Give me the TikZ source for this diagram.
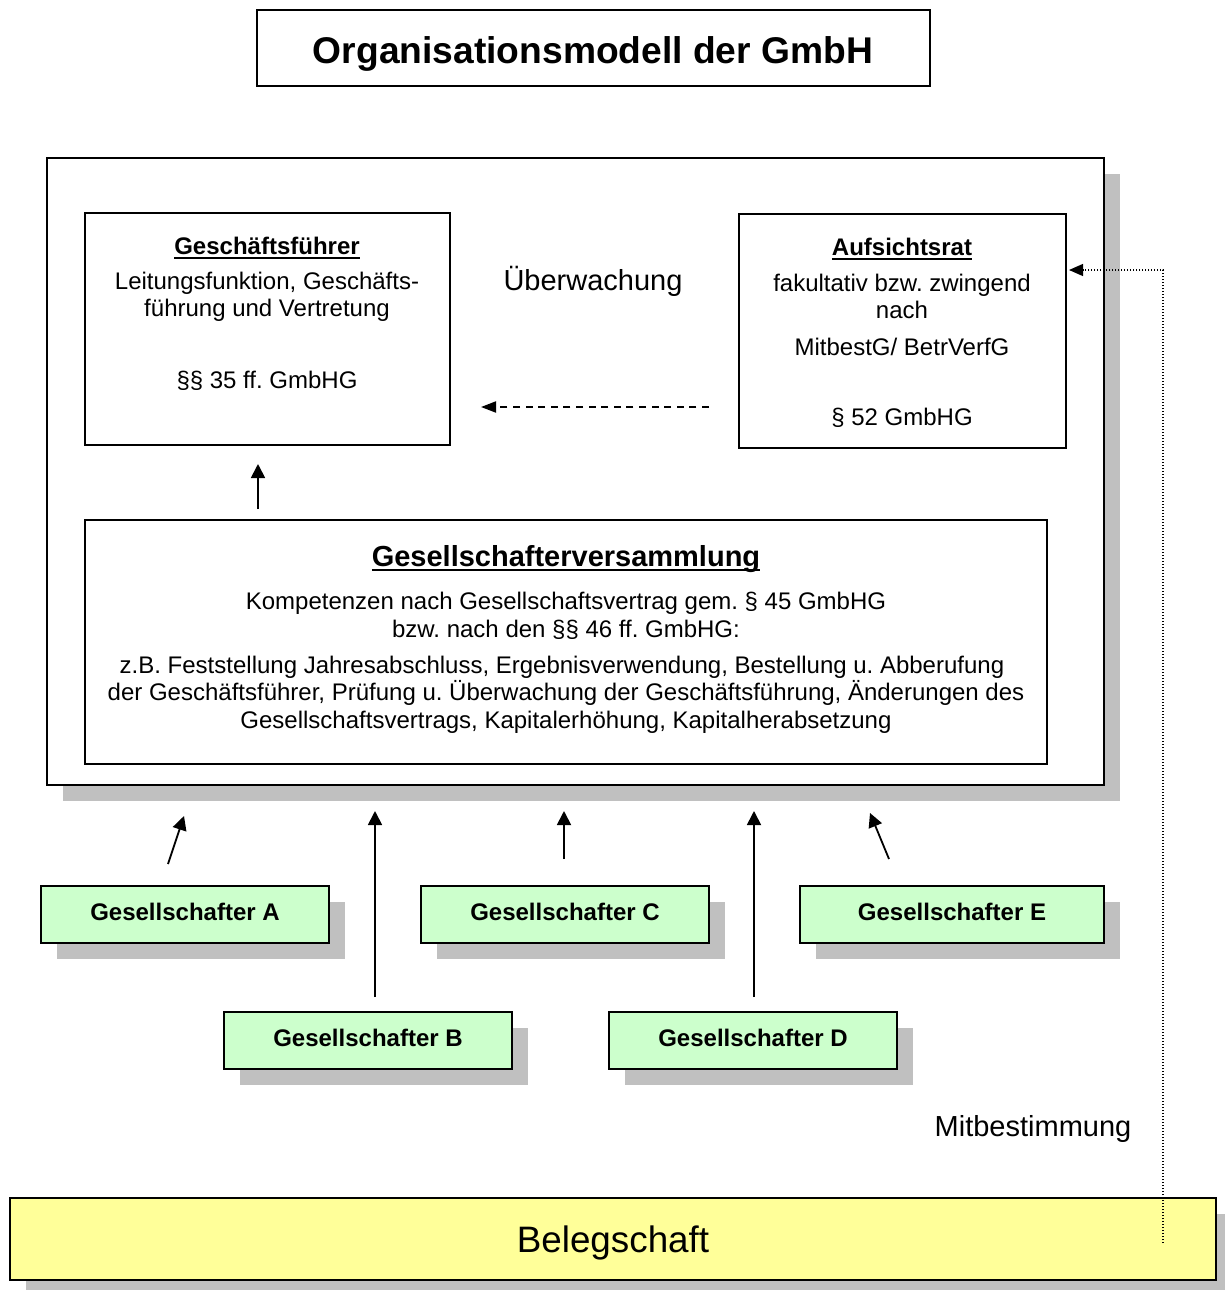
\documentclass[tikz,border=0pt]{standalone}
\usepackage{fontspec}
\setmainfont{Liberation Sans}
\usepackage{tikz}
\usetikzlibrary{arrows.meta,positioning,shadows}
\definecolor{gsgreen}{HTML}{CCFFCC}
\definecolor{blyellow}{HTML}{FFFF99}
\definecolor{shgray}{HTML}{C0C0C0}
\newcommand{\uln}[1]{\setbox0\hbox{#1}\rlap{\rule[-2.5pt]{\wd0}{1pt}}\box0}
\frenchspacing

\begin{document}
\begin{tikzpicture}[x=0.5pt, y=-0.5pt,
  box/.style={draw, line width=1pt, fill=white, inner sep=0pt},
  shad/.style={drop shadow={shadow xshift=8pt, shadow yshift=-8pt,
    fill=shgray, opacity=1}},
  gsbox/.style={box, shad, fill=gsgreen,
    minimum width=144pt, minimum height=28.5pt, text depth=2.5pt,
    font=\bfseries\fontsize{12}{14}\selectfont},
  txt/.style={anchor=base, inner sep=0pt,
    font=\fontsize{12}{14}\selectfont},
  hd/.style={anchor=base, inner sep=0pt,
    font=\bfseries\fontsize{12}{14}\selectfont},
  lbl/.style={anchor=base, inner sep=0pt,
    font=\fontsize{14.5}{17}\selectfont},
  arr/.style={-{Triangle[length=7pt, width=7pt]}, line width=0.9pt},
  dasharr/.style={-{Triangle[length=7.5pt, width=5.5pt]}, line width=1pt,
    dash pattern=on 3.5pt off 2.8pt},
  dotarr/.style={-{Triangle[length=7pt, width=6pt]}, line width=0.6pt,
    dash pattern=on 0.6pt off 0.9pt}]
\useasboundingbox (0,0) rectangle (1225,1290);

% Title
\node[box, line width=0.8pt, minimum width=336.5pt, minimum height=38pt]
  (title) at (593.5,48) {};
\node[hd, font=\bfseries\fontsize{18.6}{22}\selectfont] (titletx) at (593,63)
  {Organisationsmodell der GmbH};

% GmbH frame with its organs
\node[box, line width=0.8pt, shad, minimum width=528.5pt,
  minimum height=313.5pt] (gmbh) at (575.5,471.5) {};

\node[box, minimum width=182.5pt, minimum height=116pt] (gf) at (267.5,329) {};
\node[hd] (gfhd) at (267,254) {\uln{Geschäftsführer}};
\node[txt] (gfl1) at (267,289) {Leitungsfunktion, Geschäfts-};
\node[txt] (gfl2) at (267,316) {führung und Vertretung};
\node[txt] (gfpar) at (267,388) {§§ 35 ff. GmbHG};

\node[box, minimum width=163.5pt, minimum height=117pt] (ar) at (902.5,331) {};
\node[hd] (arhd) at (902,255) {\uln{Aufsichtsrat}};
\node[txt] (arl1) at (902,291) {fakultativ bzw. zwingend};
\node[txt] (arl2) at (902,318) {nach};
\node[txt] (arlaw) at (902,355) {MitbestG/ BetrVerfG};
\node[txt] (arpar) at (902,425) {§ 52 GmbHG};

\node[lbl] (ueb) at (593,290) {Überwachung};

\node[box, minimum width=481pt, minimum height=122pt] (gv) at (566,642) {};
\node[hd, font=\bfseries\fontsize{14.5}{17}\selectfont] (gvhd) at (566,566)
  {\uln{Gesellschafterversammlung}};
\node[txt] (gvl1) at (566,609) {Kompetenzen nach Gesellschaftsvertrag gem. § 45 GmbHG};
\node[txt] (gvl2) at (566,637) {bzw. nach den §§ 46 ff. GmbHG:};
\node[txt] (gvl3) at (562,673)
  {z.B. Feststellung Jahresabschluss, Ergebnisverwendung, Bestellung u. Abberufung};
\node[txt] (gvl4) at (566,700)
  {der Geschäftsführer, Prüfung u. Überwachung der Geschäftsführung, Änderungen des};
\node[txt] (gvl5) at (566,728)
  {Gesellschaftsvertrags, Kapitalerhöhung, Kapitalherabsetzung};

% Arrows inside the frame
\draw[arr, shorten <=5pt, shorten >=9pt]
  ([xshift=-4.75pt]gf.south |- gv.north) -- ([xshift=-4.75pt]gf.south);
\draw[dasharr, shorten <=14.5pt, shorten >=15pt]
  ([yshift=-38pt]ar.west) -- ([yshift=-38pt]ar.west -| gf.east);

% Shareholders
\node[gsbox] (ga) at (185,914.5) {Gesellschafter A};
\node[gsbox] (gc) at (565,914.5) {Gesellschafter C};
\node[gsbox, minimum width=152pt] (ge) at (952,914.5) {Gesellschafter E};
\node[gsbox] (gb) at (368,1040.5) {Gesellschafter B};
\node[gsbox] (gd) at (753,1040.5) {Gesellschafter D};

\draw[arr] ([shift={(-17,-21)}]ga.north) -- ([shift={(-1,-69)}]ga.north);
\draw[arr] ([shift={(7,-14)}]gb.north) -- ([shift={(7,-200)}]gb.north);
\draw[arr] ([shift={(-1,-26)}]gc.north) -- ([shift={(-1,-74)}]gc.north);
\draw[arr] ([shift={(1,-14)}]gd.north) -- ([shift={(1,-200)}]gd.north);
\draw[arr] ([shift={(-63,-26)}]ge.north) -- ([shift={(-82,-72)}]ge.north);

% Workforce and co-determination
\node[box, shad, fill=blyellow, minimum width=603pt, minimum height=41pt,
  text depth=0pt, font=\fontsize{18.4}{22}\selectfont] (bel) at (613,1239)
  {Belegschaft};
\node[lbl] (mitb) at (1033,1136) {Mitbestimmung};
\draw[dotarr, shorten >=1pt]
  ([xshift=-27pt,yshift=-2pt]bel.east) |- ([yshift=30.5pt]ar.east);

\end{tikzpicture}
\end{document}
